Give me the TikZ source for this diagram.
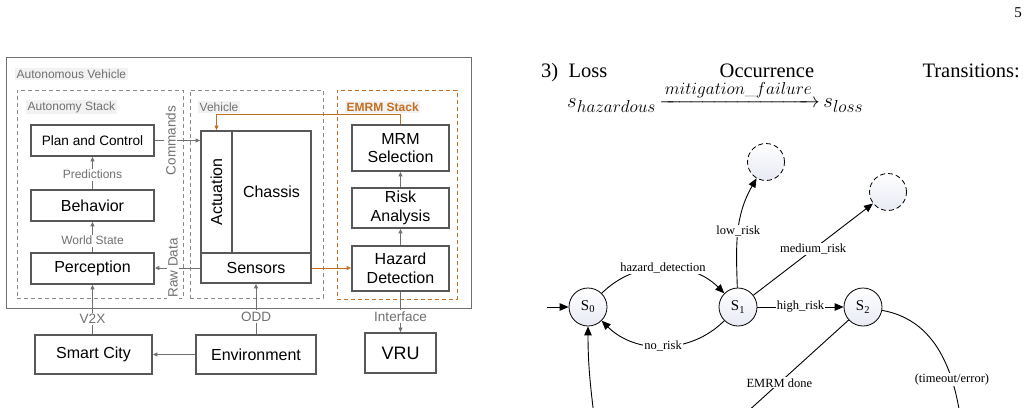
\documentclass[tikz,border=0pt]{standalone}
\usepackage{amsmath}
\usepackage{graphicx}
\usepackage{fontspec}
\usepackage[]{tikz}
\usetikzlibrary{positioning,calc,shapes}
\usetikzlibrary{arrows.meta}
\newfontfamily\diagfont{Liberation Sans}
\newfontfamily\paperfont{Liberation Serif}
\definecolor{boxgray}{RGB}{88,88,88}
\definecolor{linegray}{RGB}{112,112,112}
\definecolor{dashgray}{RGB}{138,138,138}
\definecolor{labelbg}{RGB}{242,242,242}
\definecolor{emrmorange}{RGB}{196,110,32}
\definecolor{stateshade}{RGB}{232,234,244}
\tikzset{block/.style={draw=boxgray,line width=1.8pt,fill=white,inner sep=0pt,align=center,font=\diagfont\fontsize{16}{18.5}\selectfont}}
\tikzset{frame box/.style={draw=linegray,line width=0.9pt,inner sep=0pt}}
\tikzset{group box/.style={draw=dashgray,dash pattern=on 4pt off 3pt,line width=0.9pt,inner sep=0pt}}
\tikzset{group label/.style={fill=labelbg,text=linegray,inner sep=1.5pt,font=\diagfont\fontsize{12}{14}\selectfont}}
\tikzset{flow/.style={draw=linegray,line width=0.9pt,-{Triangle[length=4.5pt,width=4pt]}}}
\tikzset{emrm flow/.style={draw=emrmorange,line width=0.9pt,-{Triangle[length=4.5pt,width=4pt]}}}
\tikzset{flow label/.style={fill=white,text=linegray,inner sep=1.5pt,font=\diagfont\fontsize{12}{14}\selectfont}}
\tikzset{side label/.style={fill=white,text=linegray,inner sep=1.5pt,font=\diagfont\fontsize{13.5}{15}\selectfont}}
\tikzset{paper text/.style={inner sep=0pt,font=\paperfont\fontsize{20.5}{24}\selectfont}}
\tikzset{state/.style={circle,draw,line width=0.8pt,top color=white,bottom color=stateshade,minimum size=38pt,inner sep=0pt,font=\paperfont\fontsize{15}{17}\selectfont}}
\tikzset{open state/.style={circle,draw,line width=0.8pt,dash pattern=on 5pt off 3pt,top color=white,bottom color=stateshade,minimum size=37pt,inner sep=0pt}}
\tikzset{trans/.style={line width=0.9pt,-{Triangle[length=9pt,width=7.5pt]}}}
\tikzset{trans line/.style={line width=0.9pt}}
\tikzset{trans label/.style={fill=white,inner sep=1pt,font=\paperfont\fontsize{12.5}{14}\selectfont}}

\begin{document}
\begin{tikzpicture}[x=1pt, y=1pt, on grid]
  \path[use as bounding box, clip] (0,0) rectangle (1028,-407);
  \fill[white] (0,0) rectangle (1028,-407);

  % groups
  \node[frame box, minimum width=465pt, minimum height=251pt] (av) at (238.5,-182.5) {};
  \node[group label, anchor=west] (avname) at (15,-74) {Autonomous Vehicle};
  \node[group box, minimum width=166pt, minimum height=208pt] (autostack) at (100,-194) {};
  \node[group label, anchor=west] (autoname) at (26,-107) {Autonomy Stack};
  \node[group box, minimum width=133pt, minimum height=208pt] (vehicle) at (256.5,-194) {};
  \node[group label, anchor=west] (vehname) at (198,-107) {Vehicle};
  \node[group box, draw=emrmorange, minimum width=120pt, minimum height=209pt] (emrm) at (397,-194.5) {};
  \node[group label, anchor=west, text=emrmorange, font=\diagfont\bfseries\fontsize{12}{14}\selectfont] (emrmname) at (345,-107) {EMRM Stack};

  % blocks
  \node[block, minimum width=123pt, minimum height=31pt, font=\diagfont\fontsize{13.6}{16}\selectfont] (plan) at (92.5,-140.5) {Plan and Control};
  \node[block, minimum width=123pt, minimum height=31pt] (behavior) [below=65pt of plan] {Behavior};
  \node[block, minimum width=123pt, minimum height=31pt] (perception) [below=63pt of behavior] {Perception};
  \node[block, minimum width=31pt, minimum height=122pt] (actuation) at (216.5,-192) {\rotatebox{90}{Actuation}};
  \node[block, minimum width=79pt, minimum height=122pt] (chassis) at (271.5,-192) {Chassis};
  \node[block, minimum width=110pt, minimum height=30pt] (sensors) at (256,-268) {Sensors};
  \node[block, minimum width=97pt, minimum height=46pt] (mrm) at (400.5,-148) {MRM\\Selection};
  \node[block, minimum width=97pt, minimum height=40pt] (risk) [below=60pt of mrm] {Risk\\Analysis};
  \node[block, minimum width=97pt, minimum height=45pt] (hazard) [below=60.5pt of risk] {Hazard\\Detection};
  \node[block, minimum width=71pt, minimum height=40pt, font=\diagfont\fontsize{18}{20}\selectfont] (vru) [below=84.5pt of hazard] {VRU};
  \node[block, minimum width=117pt, minimum height=39pt] (city) at (93.5,-354.5) {Smart City};
  \node[block, minimum width=120pt, minimum height=39pt] (env) at (256,-354.5) {Environment};

  % data flow
  \draw[flow] (behavior) -- node[flow label, pos=0.45] {Predictions} (plan);
  \draw[flow] (perception) -- node[flow label, pos=0.38] {World State} (behavior);
  \draw[flow] (plan.east) -- node[side label, rotate=90, pos=0.35] {Commands} (plan.east -| actuation.west);
  \draw[flow] (sensors.west) -- node[side label, rotate=90, pos=0.6] {Raw Data} (sensors.west -| perception.east);
  \draw[flow] (perception.south |- city.north) -- node[side label, pos=0.31] {V2X} (perception.south);
  \draw[flow] (env) -- node[side label, pos=0.35] {ODD} (sensors);
  \draw[flow] (env) -- (city);
  \draw[flow] (hazard) -- node[side label, pos=0.62] {Interface} (vru);
  \draw[flow] (hazard) -- (risk);
  \draw[flow] (risk) -- (mrm);
  \draw[emrm flow] (sensors.east) -- (sensors.east -| hazard.west);
  \draw[emrm flow] (mrm.north) -- ++(0,10) -| (actuation.north);

  % paper text
  \node[paper text, anchor=base east, font=\paperfont\fontsize{15}{17}\selectfont] (pagenum) at (1022,-17) {5};
  \node[paper text, anchor=base west] (itemno) at (541,-77) {3)};
  \node[paper text, anchor=base west] (word1) at (568.5,-77) {Loss};
  \node[paper text, anchor=base west] (word2) at (719.5,-77) {Occurrence};
  \node[paper text, anchor=base east] (word3) at (1020,-77) {Transitions:};
  \node[inner sep=0pt, anchor=base west, font=\fontsize{22.8}{26}\selectfont] (lossrule) at (567,-107.5) {$s_{hazardous}\mkern-2mu\xrightarrow{mitigation\_failure}\mkern-2mu s_{loss}$};

  % state machine
  \node[state] (s0) at (588,-307) {S\textsubscript{0}};
  \node[state] (s1) [right=150pt of s0] {S\textsubscript{1}};
  \node[state] (s2) [right=125pt of s1] {S\textsubscript{2}};
  \node[open state] (lowrisk) at (766,-162) {};
  \node[open state] (medrisk) at (888,-192) {};
  \coordinate (start) at (547,-307);
  \coordinate (s0entry) at (597,-440);
  \coordinate (emrmend) at (735,-423);
  \coordinate (timeoutend) at (963,-440);

  \draw[trans] (start) -- (s0);
  \draw[trans] (s0) to[out=45,in=135] node[trans label] {hazard\_detection} (s1);
  \draw[trans] (s1) to[out=225,in=-45] node[trans label] {no\_risk} (s0);
  \draw[trans] (s1) -- node[trans label] {high\_risk} (s2);
  \draw[trans] (s1) to[out=92,in=240] node[trans label] {low\_risk} (lowrisk);
  \draw[trans] (s1) -- node[trans label] {medium\_risk} (medrisk);
  \draw[trans line] (s2) -- node[trans label, pos=0.61] {EMRM done} (emrmend);
  \draw[trans line] (s2) to[out=-10,in=95] node[trans label, pos=0.65] {(timeout/error)} (timeoutend);
  \draw[trans] (s0entry) to[out=97,in=-90] (s0);
\end{tikzpicture}
\end{document}
